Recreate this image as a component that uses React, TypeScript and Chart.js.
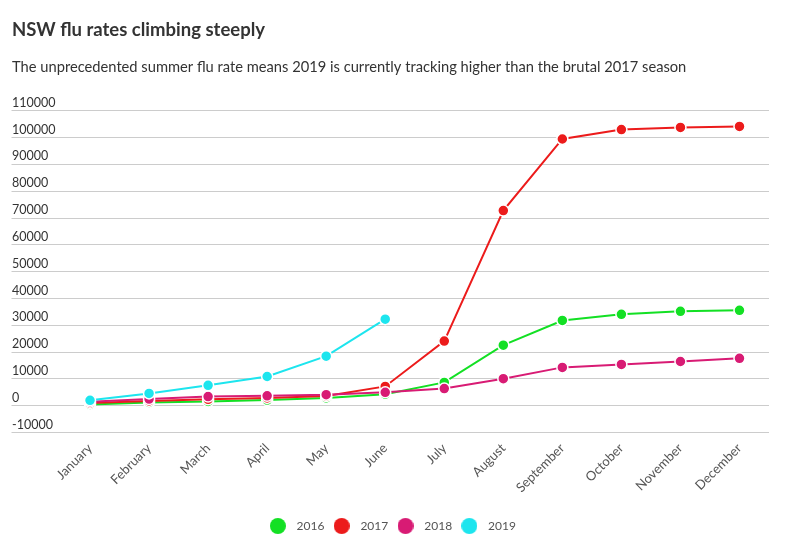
import React, { useEffect, useRef } from "react";
import { Chart, registerables } from "chart.js";

Chart.register(...registerables);

const months = ["January", "February", "March", "April", "May", "June", "July", "August", "September", "October", "November", "December"];
const series2016 = [500, 1200, 1600, 2100, 2900, 4300, 8700, 22600, 31800, 34100, 35200, 35600];
const series2017 = [1000, 1800, 2400, 2900, 3600, 7200, 24100, 72800, 99500, 103000, 103800, 104200];
const series2018 = [1500, 2500, 3400, 3700, 4100, 5000, 6400, 10100, 14300, 15400, 16500, 17700];
const series2019 = [2000, 4600, 7600, 10900, 18500, 32300];
const seriesNames = ["2016", "2017", "2018", "2019"];
const seriesColors = ["#13e024", "#ec1b1b", "#d81b74", "#1de5ee"];

const titleText = "NSW flu rates climbing steeply";
const subtitleText = "The unprecedented summer flu rate means 2019 is currently tracking higher than the brutal 2017 season";

function makeDot(color: string, size: number) {
  const c = document.createElement("canvas");
  c.width = size;
  c.height = size;
  const ctx = c.getContext("2d");
  if (ctx) {
    ctx.fillStyle = color;
    ctx.beginPath();
    ctx.arc(size / 2, size / 2, size / 2, 0, Math.PI * 2);
    ctx.fill();
  }
  return c;
}

export default function App() {
  const ref = useRef<HTMLCanvasElement | null>(null);

  useEffect(() => {
    if (!ref.current) return;
    const all = [series2016, series2017, series2018, series2019];
    const dots = seriesColors.map((c) => makeDot(c, 16));
    const chart = new Chart(ref.current, {
      type: "line",
      data: {
        labels: months,
        datasets: all.map((d, i) => ({
          label: seriesNames[i],
          data: d,
          borderColor: seriesColors[i],
          backgroundColor: seriesColors[i],
          pointBackgroundColor: seriesColors[i],
          pointBorderColor: "#ffffff",
          pointBorderWidth: 1.5,
          pointRadius: 5.5,
          borderWidth: 2,
          tension: 0,
          fill: false,
          order: 4 - i,
        })),
      },
      options: {
        responsive: false,
        animation: false,
        events: [],
        font: { family: "Lato" },
        layout: { padding: { left: 12, right: 33, top: 0, bottom: 8 } },
        plugins: {
          tooltip: { enabled: false },
          title: {
            display: true,
            text: titleText,
            align: "start",
            color: "#333333",
            font: { family: "Lato", size: 18.5, weight: "bold" },
            padding: { top: 19, bottom: 17 },
          },
          subtitle: {
            display: true,
            text: subtitleText,
            align: "start",
            color: "#333333",
            font: { family: "Lato", size: 14.7 },
            padding: { top: 0, bottom: 35 },
          },
          legend: {
            position: "bottom",
            labels: {
              usePointStyle: true,
              pointStyle: "circle",
              pointStyleWidth: 25.5,
              boxHeight: 16,
              padding: 4.5,
              color: "#555555",
              font: { family: "Lato", size: 12 },
              sort: (a: any, b: any) => a.datasetIndex - b.datasetIndex,
              generateLabels: (c: any) =>
                (Chart.defaults.plugins.legend.labels.generateLabels as any)(c)
                  .map((l: any) => ({ ...l, lineWidth: 0, strokeStyle: l.fillStyle, pointStyle: dots[l.datasetIndex] })),
            },
          },
        },
        scales: {
          x: {
            offset: true,
            grid: { display: false, drawTicks: false },
            border: { display: false },
            afterFit: (scale: any) => { scale.height = scale.height + 12; },
            ticks: {
              minRotation: 45,
              maxRotation: 45,
              padding: 8,
              color: "#555555",
              font: { family: "Lato", size: 13 },
            },
          },
          y: {
            min: -10000,
            max: 110000,
            border: { display: false },
            grid: { color: "#cccccc", lineWidth: 1, tickLength: 49, tickColor: "#cccccc" },
            afterFit: (scale: any) => { scale.width = 48.5; },
            ticks: {
              stepSize: 10000,
              crossAlign: "far",
              labelOffset: -8,
              padding: 0,
              color: "#333333",
              font: { family: "Lato", size: 12.5 },
              callback: (v: any) => String(v),
            },
          },
        },
      } as any,
    });
    return () => chart.destroy();
  }, []);

  return (
    <div style={{ position: "absolute", left: 0, top: 0, width: 802, height: 550, background: "#ffffff" }}>
      <canvas ref={ref} width={802} height={550} />
    </div>
  );
}
